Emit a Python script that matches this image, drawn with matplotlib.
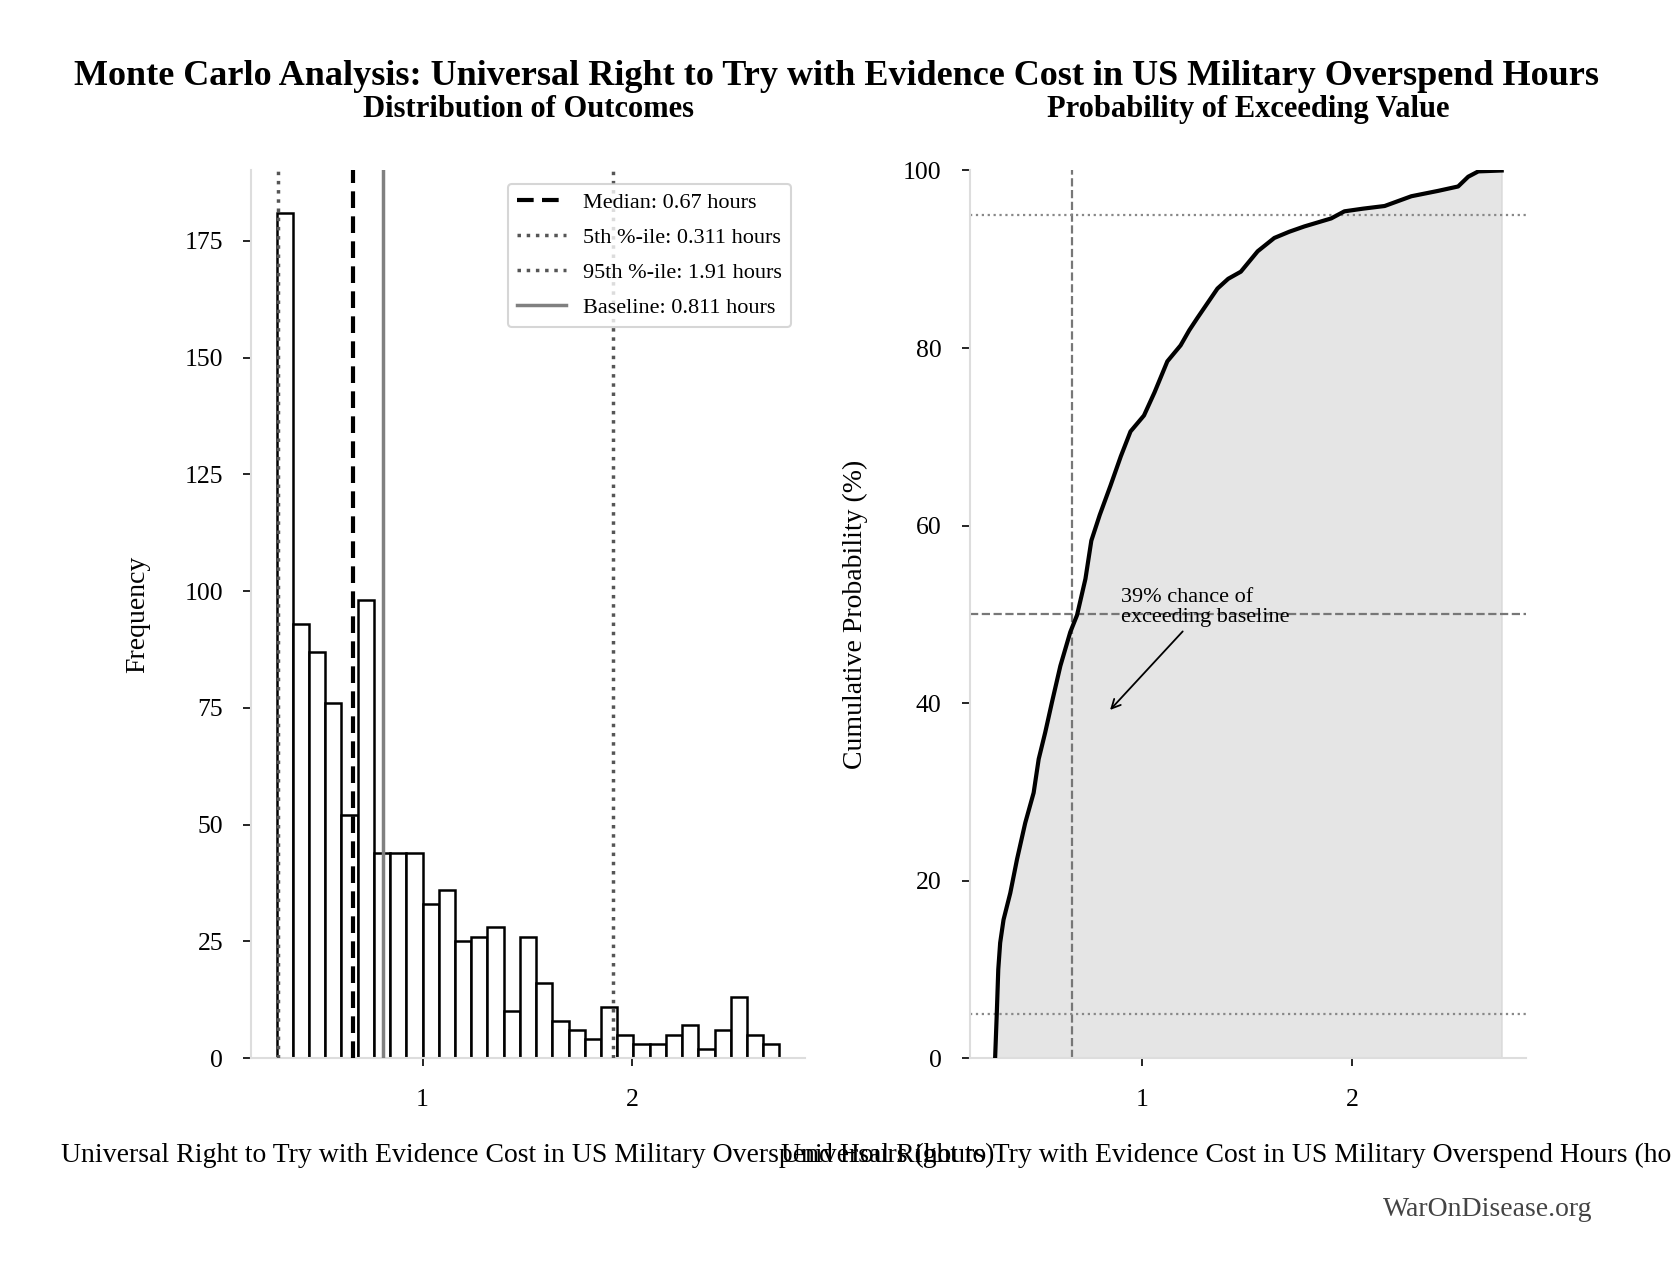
import numpy as np
import matplotlib
matplotlib.use("Agg")
import matplotlib.pyplot as plt

plt.rcParams['font.family'] = ['Liberation Serif', 'DejaVu Serif']

# histogram of 1000 Monte Carlo outcomes (hours)
bin_lo, bin_hi = 0.303, 2.705
counts = [181, 93, 87, 76, 52, 98, 44, 44, 44, 33, 36, 25, 26, 28, 10, 26,
          16, 8, 6, 4, 11, 5, 3, 3, 5, 7, 2, 6, 13, 5, 3]

median_val = 0.67
p5_val = 0.311
p95_val = 1.91
baseline_val = 0.811

# cumulative curve
cdf_x = [0.303, 0.311, 0.318, 0.327, 0.343, 0.375, 0.407, 0.446, 0.486, 0.510,
         0.541, 0.573, 0.613, 0.660, 0.692, 0.732, 0.760, 0.800, 0.851, 0.900,
         0.946, 1.010, 1.060, 1.121, 1.184, 1.225, 1.264, 1.310, 1.359, 1.410,
         1.470, 1.550, 1.629, 1.700, 1.772, 1.899, 1.962, 2.050, 2.153, 2.280,
         2.406, 2.502, 2.550, 2.598, 2.709]
cdf_pct = [0, 5.1, 10.0, 13.0, 15.6, 18.6, 22.4, 26.5, 29.9, 33.7,
           36.7, 40.1, 44.2, 48.0, 49.9, 54.0, 58.3, 61.2, 64.5, 67.8,
           70.6, 72.4, 75.0, 78.5, 80.3, 82.0, 83.4, 85.0, 86.7, 87.8,
           88.6, 90.9, 92.4, 93.1, 93.7, 94.6, 95.4, 95.7, 96.0, 97.1,
           97.7, 98.2, 99.3, 99.9, 100]

xlabel = 'Universal Right to Try with Evidence Cost in US Military Overspend Hours (hours)'

fig = plt.figure(figsize=(16.71, 12.80), dpi=100)
ax1 = fig.add_axes([0.1505, 0.1733, 0.331, 0.6935])
ax2 = fig.add_axes([0.5804, 0.1733, 0.3329, 0.6935])

# --- left: histogram
edges = np.linspace(bin_lo, bin_hi, len(counts) + 1)
ax1.bar(edges[:-1], counts, width=np.diff(edges), align='edge',
        color='white', edgecolor='black', linewidth=1.8, zorder=2)
ax1.axvline(median_val, color='black', ls=(0, (4, 2)), lw=3,
            label=f'Median: {median_val:.2f} hours', zorder=3)
ax1.axvline(p5_val, color='#555555', ls=':', lw=2.5,
            label=f'5th %-ile: {p5_val:.3g} hours', zorder=3)
ax1.axvline(p95_val, color='#555555', ls=':', lw=2.5,
            label=f'95th %-ile: {p95_val:.3g} hours', zorder=3)
ax1.axvline(baseline_val, color='gray', ls='-', lw=2.5,
            label=f'Baseline: {baseline_val:.3g} hours', zorder=3)
ax1.set_ylabel('Frequency', fontsize=20)
ax1.set_yticks(range(0, 176, 25))
leg = ax1.legend(loc='upper right', fontsize=16, handlelength=2.2,
                 edgecolor='#cccccc', fancybox=True, labelspacing=0.65,
                 borderaxespad=0.6)
leg.get_frame().set_linewidth(1.5)

# --- right: cumulative probability
ax2.fill_between(cdf_x, cdf_pct, 0, color='gray', alpha=0.2, zorder=1)
ax2.axvline(median_val, color='#777777', ls='--', lw=1.6, zorder=2)
ax2.axhline(50, color='#777777', ls='--', lw=1.6, zorder=2)
ax2.axhline(5, color='#888888', ls=':', lw=1.6, zorder=2)
ax2.axhline(95, color='#888888', ls=':', lw=1.6, zorder=2)
ax2.plot(cdf_x, cdf_pct, color='black', lw=3, zorder=3)
ax2.set_ylim(0, 100)
ax2.set_ylabel('Cumulative Probability (%)', fontsize=20)
ax2.annotate('39% chance of\nexceeding baseline', xy=(0.84, 39),
             xytext=(0.9, 50.8), ha='left', va='center', fontsize=16,
             linespacing=1.05,
             arrowprops=dict(arrowstyle='->', color='black', lw=1.3))

for ax in (ax1, ax2):
    ax.set_xlim(0.183, 2.825)
    ax.set_xticks([1, 2])
    ax.set_xlabel(xlabel, fontsize=20)
    ax.xaxis.set_label_coords(0.5, -0.095)
    ax.yaxis.set_label_coords(-0.183, 0.5)
    for s in ('top', 'right'):
        ax.spines[s].set_visible(False)
    for s in ('left', 'bottom'):
        ax.spines[s].set_color('#dddddd')
        ax.spines[s].set_linewidth(1.5)
    ax.tick_params(labelsize=18.5, length=5.5, width=1.2, pad=15, color='black')
    ax.tick_params(axis='x', pad=17)

sub_y = 1.0 + (170.5 - 109.8) / 887.7
ax1.set_title('Distribution of Outcomes', fontsize=22, fontweight='bold', pad=0,
              y=sub_y, va='center')
ax2.set_title('Probability of Exceeding Value', fontsize=22, fontweight='bold', pad=0,
              y=sub_y, va='center')

fig.text(0.5007, 0.940,
         'Monte Carlo Analysis: Universal Right to Try with Evidence Cost in US Military Overspend Hours',
         ha='center', va='center', fontsize=26, fontweight='bold')
fig.text(0.953, 0.055, 'WarOnDisease.org', ha='right', va='center',
         fontsize=20, color='#444444')

fig.savefig('out.png', dpi=100)
